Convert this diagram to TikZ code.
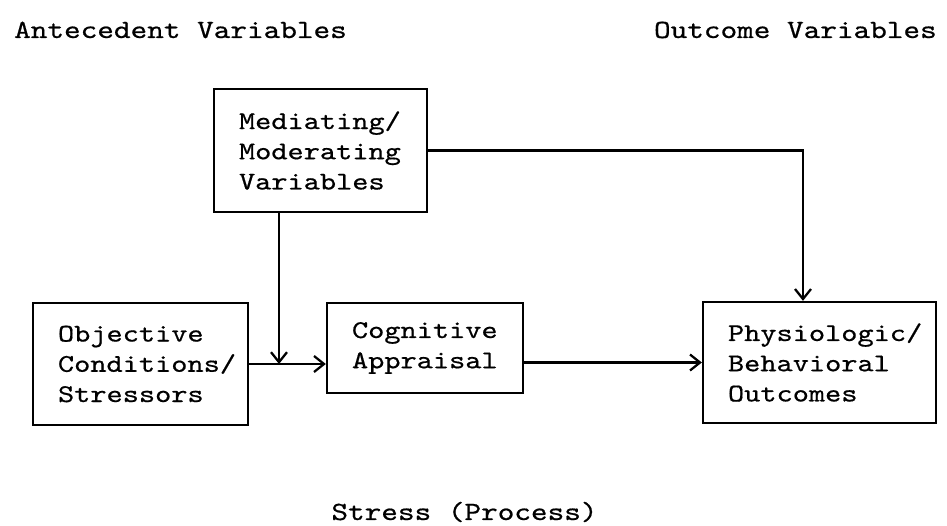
\documentclass[tikz,border=0pt]{standalone}
\usepackage{fontspec}
\newfontfamily\typewriter{lmmono10-regular.otf}[FakeBold=0.6, FakeStretch=1.21]
\usepackage{tikz}
\usetikzlibrary{arrows.meta, positioning, calc}

\tikzset{
    stressbox/.style={draw=black, line width=1.3pt, align=left, inner xsep=0.5cm, font=\typewriter\fontsize{14.5}{17.2}\selectfont},
    heading/.style={font=\typewriter\fontsize{14.9}{18}\selectfont},
    flow/.style={line width=1.3pt, -{Straight Barb[length=2mm, width=3.2mm, line width=1.3pt]}}
}

\begin{document}
\begin{tikzpicture}
    % picture frame
    \useasboundingbox (0,0) rectangle (18.94,-10.52);

    % column headings
    \node[heading, anchor=base west] (antecedent) at (0.16,-0.76) {Antecedent Variables};
    \node[heading, anchor=base east] (outcome) at (18.86,-0.76) {Outcome Variables};

    % boxes
    \node[stressbox, text width=3.26cm, minimum height=2.46cm] (mediating) at (6.41,-3.01) {Mediating/\\Moderating\\Variables};
    \node[stressbox, text width=3.3cm, minimum height=2.44cm] (objective) at (2.81,-7.28) {Objective\\Conditions/\\Stressors};
    \node[stressbox, text width=2.92cm, minimum height=1.8cm] (cognitive) at (8.5,-6.96) {Cognitive\\Appraisal};
    \node[stressbox, text width=3.66cm, minimum height=2.42cm] (outcomes) at (16.39,-7.25) {Physiologic/\\Behavioral\\Outcomes};

    % where the moderating path meets the stressor path
    \coordinate (join) at ($(mediating.south)+(-0.83,0)$);
    \coordinate (turn) at ($(outcomes.north)+(-0.33,0)$);

    % arrows
    \draw[flow] (objective.east) -- (objective.east -| cognitive.west);
    \draw[flow] (join) -- (join |- objective.east);
    \draw[flow] (outcomes.west -| cognitive.east) -- (outcomes.west);
    \draw[flow] (mediating.east) -| (turn);

    % process label
    \node[heading, anchor=base] (process) at (9.29,-10.4) {Stress (Process)};
\end{tikzpicture}
\end{document}
